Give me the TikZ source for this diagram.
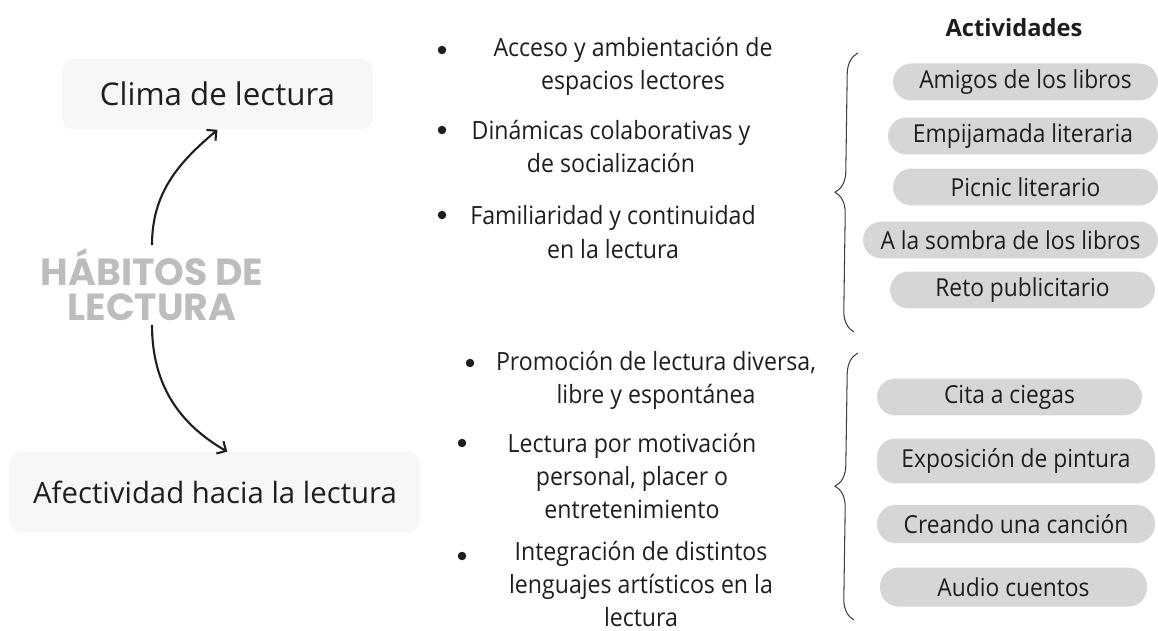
\documentclass[tikz,border=0pt]{standalone}
\usepackage{fontspec}
\setmainfont{Open Sans}
\newfontfamily\estrecha{Open Sans}[FakeStretch=0.92]
\newfontfamily\titfont{Poppins}
\usetikzlibrary{positioning,arrows,arrows.meta,decorations.pathreplacing}
\definecolor{caja}{HTML}{F7F7F7}
\definecolor{pildora}{HTML}{D6D6D6}
\definecolor{titgris}{HTML}{BDBDBD}
\definecolor{letra}{HTML}{1E1E1E}
\tikzset{tema/.style={fill=caja, rounded corners=0.24cm, text=letra}}
\tikzset{item/.style={align=center, text=letra, inner sep=1pt, font=\estrecha\fontsize{14.3}{18.9}\selectfont}}
\tikzset{pill/.style={fill=pildora, rounded corners=0.37cm, minimum height=0.74cm, inner sep=0pt, text=letra, font=\estrecha\fontsize{14.1}{16}\selectfont}}
\tikzset{dot/.style={circle, fill=letra, inner sep=0pt, minimum size=0.17cm}}
\tikzset{llave/.style={draw=letra!85, line width=0.6pt, decorate, decoration={brace, amplitude=0.42cm}}}
\tikzset{flecha/.style={draw=letra, line width=1.2pt, -{Straight Barb[length=4pt, width=8pt]}}}

\begin{document}
\begin{tikzpicture}[x=0.02cm, y=-0.02cm]
            \useasboundingbox (0,0) rectangle (1158,631);
            \node[tema, minimum width=6.22cm, minimum height=1.42cm, font=\fontsize{17.8}{20}\selectfont] (clima) at (217.5,94) {Clima de lectura};
            \node[tema, minimum width=8.2cm, minimum height=1.6cm, font=\fontsize{16.7}{20}\selectfont] (afect) at (215,492) {Afectividad hacia la lectura};
            \node[align=center, text=titgris, font=\titfont\bfseries\fontsize{21.5}{19.8}\selectfont, inner sep=2pt] (hab) at (152,285) {HÁBITOS DE\\LECTURA};
            \draw[flecha] (hab.north) to[out=90, in=220] (clima.south);
            \draw[flecha] (hab.south) to[out=-90, in=150] ([xshift=7]afect.north);

            \node[dot] (d1) at (442,50) {};
            \node[item] (t1) at (633,66.5) {Acceso y ambientación de\\espacios lectores};
            \node[dot] (d2) at (442,130) {};
            \node[item] (t2) at (611,146.5) {Dinámicas colaborativas y\\de socialización};
            \node[dot] (d3) at (442,215) {};
            \node[item] (t3) at (613,232) {Familiaridad y continuidad\\en la lectura};
            \node[dot] (d4) at (470,363) {};
            \node[item] (t4) at (656,380) {Promoción de lectura diversa,\\libre y espontánea};
            \node[dot] (d5) at (462,443) {};
            \node[item] (t5) at (632,476) {Lectura por motivación\\personal, placer o\\entretenimiento};
            \node[dot] (d6) at (462,556) {};
            \node[item] (t6) at (641,584) {Integración de distintos\\lenguajes artísticos en la\\lectura};

            \draw[llave] (854,332) -- (858,53);
            \draw[llave] (854,620) -- (858,353);

            \node[text=letra, font=\bfseries\fontsize{13.5}{16}\selectfont] (act) at (1014,28) {Actividades};
            \node[pill, minimum width=5.3cm] (a1) at (1025.5,82) {Amigos de los libros};
            \node[pill, minimum width=5.4cm] (a2) at (1023,136) {Empijamada literaria};
            \node[pill, minimum width=5.3cm] (a3) at (1025.5,187) {Picnic literario};
            \node[pill, minimum width=5.9cm] (a4) at (1010.5,240) {A la sombra de los libros};
            \node[pill, minimum width=5.3cm] (a5) at (1022.5,290) {Reto publicitario};
            \node[pill, minimum width=5.3cm] (b1) at (1009.5,397) {Cita a ciegas};
            \node[pill, minimum width=5.56cm, minimum height=0.9cm] (b2) at (1016,461) {Exposición de pintura};
            \node[pill, minimum width=5.56cm, minimum height=0.76cm] (b3) at (1016,524) {Creando una canción};
            \node[pill, minimum width=5.34cm, minimum height=0.78cm] (b4) at (1013.5,587) {Audio cuentos};
          \end{tikzpicture}
\end{document}
